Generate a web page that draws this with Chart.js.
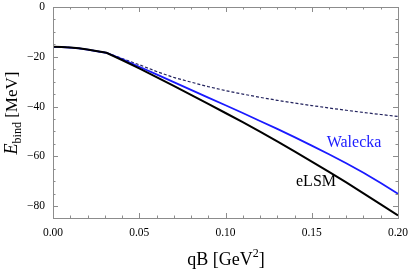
<!DOCTYPE html>
<html>
<head>
<meta charset="utf-8">
<script src="https://cdn.jsdelivr.net/npm/chart.js@4/dist/chart.umd.min.js"></script>
<style>
  html, body { margin: 0; padding: 0; background: #fff; }
  #wrap { width: 409px; height: 271px; }
</style>
</head>
<body>
<div id="wrap"><canvas id="myChart" width="409" height="271"></canvas></div>
<script>
// qB in GeV^2
const qB = [0, 0.005, 0.01, 0.015, 0.02, 0.025, 0.031, 0.04, 0.05, 0.06, 0.07, 0.08, 0.09, 0.10,
            0.11, 0.12, 0.13, 0.14, 0.15, 0.16, 0.17, 0.18, 0.19, 0.20];
// binding energy in MeV
const eLSM    = [-16.0, -16.1, -16.3, -16.6, -17.1, -17.7, -18.4, -21.3, -24.7, -28.2, -31.7, -35.3, -38.9, -42.6,
                 -46.3, -50.1, -54.0, -58.0, -62.1, -66.3, -70.5, -74.9, -79.3, -83.8];
const walecka = [-16.0, -16.1, -16.3, -16.6, -17.1, -17.7, -18.4, -20.9, -24.0, -27.1, -30.2, -33.3, -36.4, -39.5,
                 -42.6, -45.8, -49.0, -52.3, -55.7, -59.2, -62.8, -66.6, -70.7, -75.1];
const dashed  = [-16.0, -16.1, -16.3, -16.6, -17.1, -17.7, -18.4, -20.7, -23.2, -25.9, -28.3, -30.2, -32.0, -33.6,
                 -35.0, -36.3, -37.5, -38.6, -39.6, -40.6, -41.5, -42.4, -43.2, -44.0];

const xTicks = [0, 0.05, 0.10, 0.15, 0.20];
const yTicks = [0, -20, -40, -60, -80];

const serif = "'Liberation Serif', 'DejaVu Serif', serif";
const frameColor = '#8c8c8c';

function pts(ys) {
  return qB.map((q, i) => ({ x: q, y: ys[i] }));
}

// inward ticks on all four sides, axis titles, curve labels
const decor = {
  id: 'decor',
  afterDatasetsDraw(chart) {
    const { ctx, chartArea: a, scales: { x, y } } = chart;
    ctx.save();
    ctx.strokeStyle = frameColor;
    ctx.lineWidth = 1;
    ctx.strokeRect(Math.round(a.left) + 0.5, Math.round(a.top) + 0.5,
                   Math.round(a.right - a.left), Math.round(a.bottom - a.top));
    ctx.beginPath();
    for (let i = 0; i <= 20; i++) {
      const v = i / 100;
      const px = Math.round(x.getPixelForValue(v)) + 0.5;
      const len = i % 5 === 0 ? 5 : 2.5;
      ctx.moveTo(px, a.bottom); ctx.lineTo(px, a.bottom - len);
      ctx.moveTo(px, a.top); ctx.lineTo(px, a.top + len);
    }
    for (let v = 0; v >= -84; v -= 5) {
      const py = Math.round(y.getPixelForValue(v)) + 0.5;
      const len = v % 20 === 0 ? 5 : 2.5;
      ctx.moveTo(a.left, py); ctx.lineTo(a.left + len, py);
      ctx.moveTo(a.right, py); ctx.lineTo(a.right - len, py);
    }
    ctx.stroke();

    // curve labels
    ctx.fillStyle = '#1a1aff';
    ctx.font = '16px ' + serif;
    ctx.textAlign = 'center';
    ctx.textBaseline = 'middle';
    ctx.fillText('Walecka', 354, 143);
    ctx.fillStyle = '#000';
    ctx.fillText('eLSM', 316, 182);

    // x title: qB [GeV^2]
    ctx.textAlign = 'left';
    ctx.textBaseline = 'alphabetic';
    const big = '18px ' + serif, small = '12px ' + serif;
    ctx.font = big;
    const w1 = ctx.measureText('qB [GeV').width;
    ctx.font = small;
    const w2 = ctx.measureText('2').width;
    ctx.font = big;
    const w3 = ctx.measureText(']').width;
    let sx = 226 - (w1 + w2 + w3) / 2;
    ctx.fillText('qB [GeV', sx, 265);
    ctx.font = small;
    ctx.fillText('2', sx + w1, 257);
    ctx.font = big;
    ctx.fillText(']', sx + w1 + w2, 265);

    // y title: E_bind [MeV], rotated
    ctx.translate(17, 113);
    ctx.rotate(-Math.PI / 2);
    const eFont = 'italic 18px ' + serif, sub = '12px ' + serif, rest = '17px ' + serif;
    ctx.font = eFont;
    const e1 = ctx.measureText('E').width;
    ctx.font = sub;
    const e2 = ctx.measureText('bind').width;
    ctx.font = rest;
    const e3 = ctx.measureText(' [MeV]').width;
    let tx = -(e1 + e2 + e3) / 2;
    ctx.font = eFont;
    ctx.fillText('E', tx, 0);
    ctx.font = sub;
    ctx.fillText('bind', tx + e1, 4);
    ctx.font = rest;
    ctx.fillText(' [MeV]', tx + e1 + e2, 0);
    ctx.restore();
  }
};

new Chart(document.getElementById('myChart'), {
  type: 'line',
  data: {
    datasets: [
      { label: 'eLSM', data: pts(eLSM), borderColor: '#000', borderWidth: 2, pointRadius: 0, tension: 0 },
      { label: 'Walecka', data: pts(walecka), borderColor: '#1a1aff', borderWidth: 1.8, pointRadius: 0, tension: 0 },
      { label: 'dashed', data: pts(dashed), borderColor: '#23235e', borderWidth: 1.2, borderDash: [3, 2],
        pointRadius: 0, tension: 0 }
    ]
  },
  options: {
    responsive: false,
    animation: false,
    events: [],
    layout: { padding: { top: 7, right: 11, left: 0, bottom: 0 } },
    plugins: { legend: { display: false }, tooltip: { enabled: false } },
    scales: {
      x: {
        type: 'linear', min: 0, max: 0.2,
        grid: { display: false, drawTicks: false },
        border: { display: false },
        afterFit(s) { s.height = 53; s.paddingLeft = 0; s.paddingRight = 0; },
        afterBuildTicks(s) { s.ticks = xTicks.map(v => ({ value: v })); },
        ticks: {
          padding: 8, color: '#000', maxRotation: 0,
          font: { family: serif, size: 11.5 },
          callback: v => v.toFixed(2)
        }
      },
      y: {
        type: 'linear', min: -84.8, max: 0,
        grid: { display: false, drawTicks: false },
        border: { display: false },
        afterFit(s) { s.width = 53; s.paddingTop = 0; s.paddingBottom = 0; },
        afterBuildTicks(s) { s.ticks = yTicks.map(v => ({ value: v })); },
        ticks: {
          padding: 8, color: '#000',
          font: { family: serif, size: 11.5 },
          callback: v => (v < 0 ? '\u2212' + Math.abs(v) : String(v))
        }
      }
    }
  },
  plugins: [decor]
});
</script>
</body>
</html>
